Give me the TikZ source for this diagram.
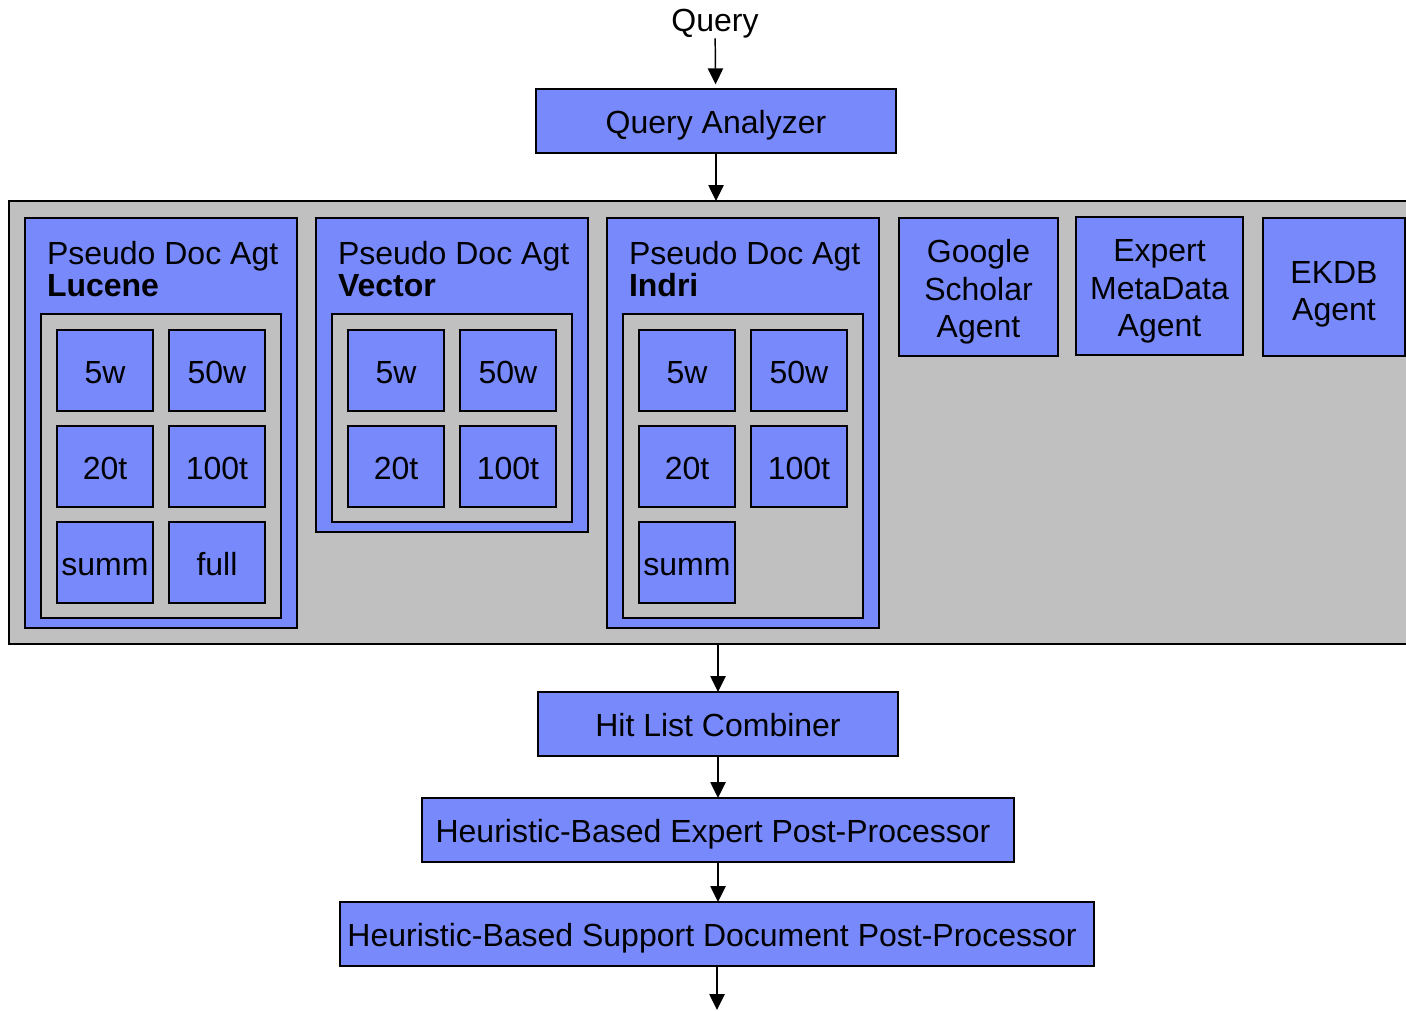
\documentclass[tikz,border=0pt]{standalone}
\usepackage{fontspec}
\setmainfont{Liberation Sans}
\usetikzlibrary{arrows.meta}
\definecolor{boxblue}{RGB}{119,137,251}
\definecolor{panelgray}{RGB}{192,192,192}
% extra room above the first line of a stacked label
\newcommand{\toppad}[1]{\rule{0pt}{#1}}
\begin{document}
\begin{tikzpicture}[x=0.75pt,y=-0.75pt,
  every node/.style={inner sep=0pt,outer sep=0pt,font=\fontsize{24pt}{27.8pt}\selectfont},
  bluebox/.style={draw=black,line width=1.2pt,fill=boxblue,text height=19.4pt,text depth=0pt,align=center},
  multibox/.style={draw=black,line width=1.2pt,fill=boxblue,align=center},
  graybox/.style={draw=black,line width=1.2pt,fill=panelgray},
  cell/.style={bluebox,minimum width=72pt,minimum height=60.75pt},
  panel/.style={draw=black,line width=1.2pt,fill=boxblue,minimum width=204pt},
  title/.style={anchor=base west},
  flow/.style={line width=1.1pt,-{Triangle[width=11.5pt,length=12pt]}}]
\useasboundingbox (0,0) rectangle (1406,1010);

% input and analyzer
\node (query) at (715,24) {Query};
\node[bluebox,minimum width=270pt,minimum height=48pt] (qa) at (716,121) {Query Analyzer};

% agent container
\node[graybox,minimum width=1058.25pt,minimum height=332.25pt] (agents) at (714.5,422.5) {};

% Lucene pseudo document agent
\node[panel,minimum height=307.5pt] (luc) at (161,423) {};
\node[title] (luct) at (47,264) {Pseudo Doc Agt};
\node[title,font=\fontsize{24pt}{27.8pt}\selectfont\bfseries] (lucn) at (47,296) {Lucene};
\node[graybox,minimum width=180pt,minimum height=228pt] (lucin) at (161,466) {};
\node[cell] (l1) at (105,370.5) {5w};
\node[cell] (l2) at (217,370.5) {50w};
\node[cell] (l3) at (105,466.5) {20t};
\node[cell] (l4) at (217,466.5) {100t};
\node[cell] (l5) at (105,562.5) {summ};
\node[cell] (l6) at (217,562.5) {full};

% Vector pseudo document agent
\node[panel,minimum height=235.5pt] (vec) at (452,375) {};
\node[title] (vect) at (338,264) {Pseudo Doc Agt};
\node[title,font=\fontsize{24pt}{27.8pt}\selectfont\bfseries] (vecn) at (338,296) {Vector};
\node[graybox,minimum width=180pt,minimum height=156pt] (vecin) at (452,418) {};
\node[cell] (v1) at (396,370.5) {5w};
\node[cell] (v2) at (508,370.5) {50w};
\node[cell] (v3) at (396,466.5) {20t};
\node[cell] (v4) at (508,466.5) {100t};

% Indri pseudo document agent
\node[panel,minimum height=307.5pt] (ind) at (743,423) {};
\node[title] (indt) at (629,264) {Pseudo Doc Agt};
\node[title,font=\fontsize{24pt}{27.8pt}\selectfont\bfseries] (indn) at (629,296) {Indri};
\node[graybox,minimum width=180pt,minimum height=228pt] (indin) at (743,466) {};
\node[cell] (i1) at (687,370.5) {5w};
\node[cell] (i2) at (799,370.5) {50w};
\node[cell] (i3) at (687,466.5) {20t};
\node[cell] (i4) at (799,466.5) {100t};
\node[cell] (i5) at (687,562.5) {summ};

% other agents
\node[multibox,minimum width=119.25pt,minimum height=103.5pt] (gs) at (978.5,287) {\toppad{24.5pt}Google\\Scholar\\Agent};
\node[multibox,minimum width=125.25pt,minimum height=103.5pt] (emd) at (1159.5,286) {\toppad{24.5pt}Expert\\MetaData\\Agent};
\node[multibox,minimum width=106.5pt,minimum height=103.5pt] (ekdb) at (1334,287) {\toppad{28pt}EKDB\\Agent};

% combination and post-processing
\node[bluebox,minimum width=270pt,minimum height=48pt] (hlc) at (718,724) {Hit List Combiner};
\node[bluebox,minimum width=444pt,minimum height=48pt] (hbe) at (718,830) {Heuristic-Based Expert Post-Processor\hspace*{7.5pt}};
\node[bluebox,minimum width=565.5pt,minimum height=48pt] (hbs) at (717,934) {Heuristic-Based Support Document Post-Processor\hspace*{7.5pt}};
\coordinate (out) at (717,1010);

% flow
\draw[flow,shorten >=3.5pt] (query) -- (qa);
\draw[flow] (qa) -- (qa |- agents.north);
\draw[flow] (hlc |- agents.south) -- (hlc);
\draw[flow] (hlc) -- (hbe);
\draw[flow] (hbe) -- (hbe |- hbs.north);
\draw[flow] (hbs) -- (out);
\end{tikzpicture}
\end{document}
